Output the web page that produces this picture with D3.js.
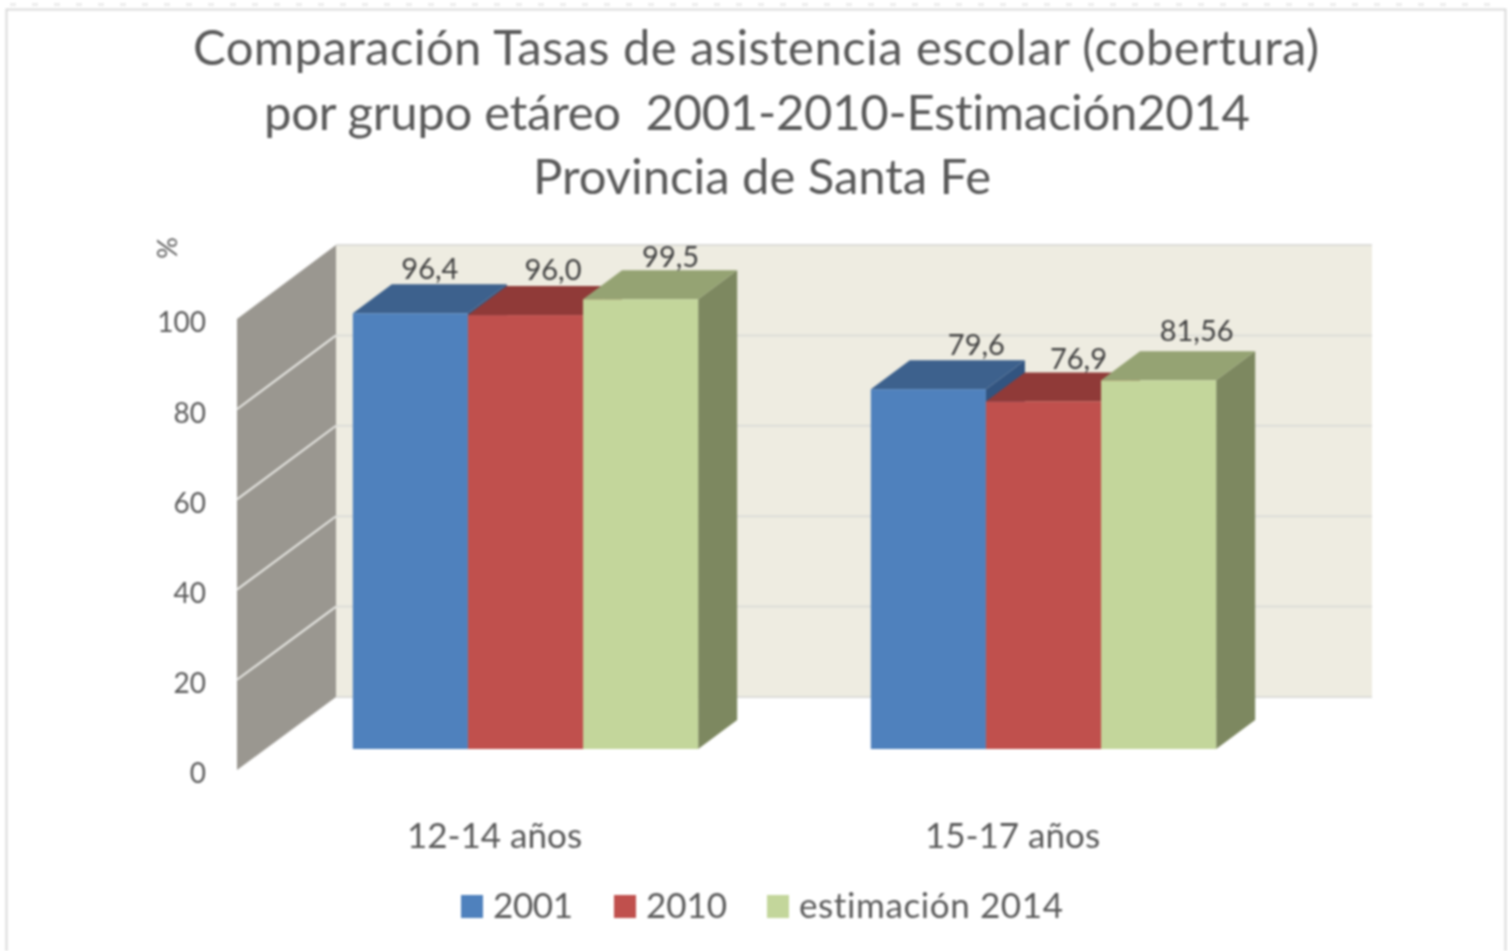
<!DOCTYPE html>
<html>
<head>
<meta charset="utf-8">
<script src="https://cdn.jsdelivr.net/npm/d3@7"></script>
<style>
  html, body { margin: 0; padding: 0; background: #fff; }
  svg { display: block; filter: blur(0.8px); }
  text { font-family: Lato, "Open Sans", sans-serif; fill: #595959; font-variant-ligatures: none; }
</style>
</head>
<body>
<svg id="chart" width="1508" height="951"></svg>
<script>
const titleLines = [
  'Comparación Tasas de asistencia escolar (cobertura)',
  'por grupo etáreo  2001-2010-Estimación2014',
  'Provincia de Santa Fe'
];
const categories = ['12-14 años', '15-17 años'];
const seriesNames = ['2001', '2010', 'estimación 2014'];
const values2001 = [96.4, 79.6];
const values2010 = [96.0, 76.9];
const values2014 = [99.5, 81.56];
const valueLabels2001 = ['96,4', '79,6'];
const valueLabels2010 = ['96,0', '76,9'];
const valueLabels2014 = ['99,5', '81,56'];
const yTicks = [0, 20, 40, 60, 80, 100];

const allValues = [values2001, values2010, values2014];
const allLabels = [valueLabels2001, valueLabels2010, valueLabels2014];

// front, top and side shade per series
const colors = [
  {front: '#4f81bd', top: '#3d618d', side: '#325480'},
  {front: '#c0504d', top: '#903a38', side: '#7f3230'},
  {front: '#c3d69b', top: '#95a373', side: '#7d8860'}
];

// the original labels were dragged by hand, so they sit off the bar centre
const labelNudge = [
  [[19.5, -5], [48, -5]],
  [[27.5, -6], [35, -3]],
  [[30, -3], [38, -10]]
];

// Lato is not quite Calibri, so each title line is fitted to its width
const titleCenter = [756, 757, 762];
const titleBaseline = [65, 130, 194];
const titleWidth = [1126, 986, 458];

const svg = d3.select('#chart');

// outer frame, runs off the bottom of the page
svg.append('path')
  .attr('d', 'M6.5,951V9.5H1505.5V951')
  .attr('fill', 'none')
  .attr('stroke', '#d9d9d9')
  .attr('stroke-width', 2);
svg.append('line')
  .attr('x1', 10).attr('x2', 1500).attr('y1', 4.5).attr('y2', 4.5)
  .attr('stroke', '#ececec')
  .attr('stroke-width', 3)
  .attr('stroke-dasharray', '6 16');

svg.selectAll('.title')
  .data(titleLines)
  .join('text')
  .attr('class', 'title')
  .attr('x', (d, i) => titleCenter[i])
  .attr('y', (d, i) => titleBaseline[i])
  .attr('text-anchor', 'middle')
  .attr('font-size', 49)
  .attr('textLength', (d, i) => titleWidth[i])
  .attr('lengthAdjust', 'spacing')
  .style('white-space', 'pre')
  .text(d => d);

// three planes of the fake 3d box
const yWallFront = d3.scaleLinear().domain([0, 100]).range([770, 319]);
const yWallBack = d3.scaleLinear().domain([0, 100]).range([697, 245]);
const yBar = d3.scaleLinear().domain([0, 100]).range([749, 297]);
const DEPTH_X = 39;
const DEPTH_Y = 29;

const x0 = d3.scaleBand().domain(categories).range([266.5, 1302.5])
  .paddingInner(1 / 3).paddingOuter(1 / 6);
const x1 = d3.scaleBand().domain(d3.range(seriesNames.length)).range([0, x0.bandwidth()]);

// back wall
svg.append('rect')
  .attr('x', 336).attr('width', 1036)
  .attr('y', yWallBack(100)).attr('height', yWallBack(0) - yWallBack(100))
  .attr('fill', '#eeece1');
svg.append('g').selectAll('line')
  .data(yTicks)
  .join('line')
  .attr('x1', 336).attr('x2', 1372)
  .attr('y1', d => yWallBack(d)).attr('y2', d => yWallBack(d))
  .attr('stroke', '#dcdcd8')
  .attr('stroke-width', 2);

// side wall
svg.append('polygon')
  .attr('points', [
    [237, yWallFront(0)], [336, yWallBack(0)],
    [336, yWallBack(100)], [237, yWallFront(100)]
  ].join(' '))
  .attr('fill', '#9a9790');
svg.append('g').selectAll('line')
  .data(yTicks.slice(1, -1))
  .join('line')
  .attr('x1', 237).attr('x2', 336)
  .attr('y1', d => yWallFront(d)).attr('y2', d => yWallBack(d))
  .attr('stroke', '#e8e8e4')
  .attr('stroke-width', 2);

// left to right so that each bar covers the side of the previous one
categories.forEach((cat, c) => {
  seriesNames.forEach((name, s) => {
    const v = allValues[s][c];
    const left = x0(cat) + x1(s);
    const right = left + x1.bandwidth();
    const top = yBar(v);
    const bottom = yBar(0);
    svg.append('polygon')
      .attr('points', [
        [right, top], [right + DEPTH_X, top - DEPTH_Y],
        [right + DEPTH_X, bottom - DEPTH_Y], [right, bottom]
      ].join(' '))
      .attr('fill', colors[s].side);
    svg.append('polygon')
      .attr('points', [
        [left, top], [right, top],
        [right + DEPTH_X, top - DEPTH_Y], [left + DEPTH_X, top - DEPTH_Y]
      ].join(' '))
      .attr('fill', colors[s].top);
    svg.append('rect')
      .attr('x', left).attr('y', top)
      .attr('width', x1.bandwidth()).attr('height', bottom - top)
      .attr('fill', colors[s].front);
  });
});

// value labels go last, they overlap the neighbouring bars
categories.forEach((cat, c) => {
  seriesNames.forEach((name, s) => {
    const nudge = labelNudge[s][c];
    svg.append('text')
      .attr('x', x0(cat) + x1(s) + x1.bandwidth() / 2 + nudge[0])
      .attr('y', yBar(allValues[s][c]) - DEPTH_Y + nudge[1])
      .attr('text-anchor', 'middle')
      .attr('font-size', 29)
      .style('fill', '#404040')
      .text(allLabels[s][c]);
  });
});

// axes
const yAxis = svg.append('g')
  .attr('transform', 'translate(237,4)')
  .call(d3.axisLeft(yWallFront).tickValues(yTicks).tickSize(0).tickPadding(31));
yAxis.select('.domain').remove();
yAxis.selectAll('text').attr('font-size', 28).style('font-family', 'Lato');

// category labels are centred on the floor, left of the bar groups
const xAxis = svg.append('g')
  .attr('transform', 'translate(-31,823)')
  .call(d3.axisBottom(x0).tickSize(0).tickPadding(0));
xAxis.select('.domain').remove();
xAxis.selectAll('text').attr('font-size', 35).style('font-family', 'Lato');

svg.append('text')
  .attr('transform', 'translate(177,248) rotate(-90)')
  .attr('text-anchor', 'middle')
  .attr('font-size', 27)
  .text('%');

// legend
const legendX = [461, 614, 767];
const legendWidth = [80, 81, 264];
const legend = svg.append('g').selectAll('g')
  .data(seriesNames)
  .join('g')
  .attr('transform', (d, i) => `translate(${legendX[i]},895)`);
legend.append('rect')
  .attr('width', 22).attr('height', 23)
  .attr('fill', (d, i) => colors[i].front);
legend.append('text')
  .attr('x', 32).attr('y', 23)
  .attr('font-size', 35)
  .attr('textLength', (d, i) => legendWidth[i])
  .attr('lengthAdjust', 'spacing')
  .text(d => d);
</script>
</body>
</html>
